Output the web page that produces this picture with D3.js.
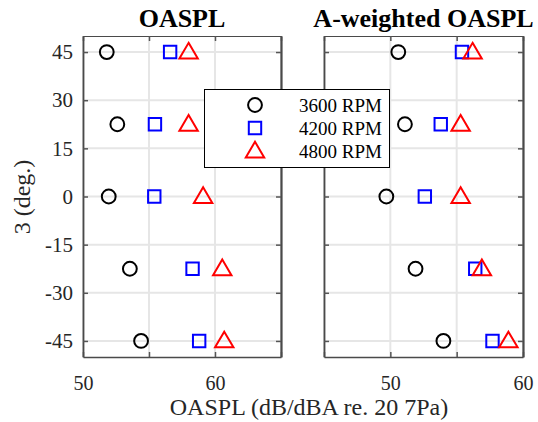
<!DOCTYPE html>
<html>
<head>
<meta charset="utf-8">
<script src="https://cdn.jsdelivr.net/npm/d3@7"></script>
<style>
  html, body { margin: 0; padding: 0; background: #fff; }
  svg { display: block; }
  text { font-family: "Liberation Serif", "Times New Roman", serif; }
</style>
</head>
<body>
<svg id="chart" width="538" height="422"></svg>
<script>
// Emission angles (deg.)
const angles = [45, 22.5, 0, -22.5, -45];
const seriesNames = ["3600 RPM", "4200 RPM", "4800 RPM"];

// Overall SPL (dB re. 20 uPa), per angle
const oaspl3600 = [51.8, 52.6, 51.95, 53.55, 54.4];
const oaspl4200 = [56.6, 55.45, 55.4, 58.3, 58.8];
const oaspl4800 = [58.0, 58.0, 59.1, 60.55, 60.7];

// A-weighted overall SPL (dBA), per angle
const aoaspl3600 = [50.6, 51.1, 49.7, 51.9, 54.0];
const aoaspl4200 = [55.4, 53.8, 52.6, 56.4, 57.7];
const aoaspl4800 = [56.2, 55.3, 55.3, 56.9, 58.9];

const yTicks = [-45, -30, -15, 0, 15, 30, 45];
const leftXTicks = [50, 55, 60, 65];
const leftXLabels = [50, 60];
const rightXTicks = [45, 50, 55, 60];
const rightXLabels = [50, 60];

const colors = ["#000000", "#0000ff", "#ff0000"];
const shapes = ["circle", "square", "triangle"];

const svg = d3.select("#chart");
const plotTop = 36, plotBottom = 357;
const y = d3.scaleLinear().domain([-50, 50]).range([plotBottom, plotTop]);

function markerPath(shape) {
  if (shape === "circle") return d3.symbol(d3.symbolCircle, 150)();
  if (shape === "square") return "M-6.2,-6.2H6.2V6.2H-6.2Z";
  return "M0,-9.2L9.2,6.4L-9.2,6.4Z";
}

function drawPanel(x0, x1, domain, ticks, labels, title, series, showY) {
  const x = d3.scaleLinear().domain(domain).range([x0, x1]);
  const g = svg.append("g");

  // grid
  g.append("g").selectAll("line").data(ticks).join("line")
    .attr("x1", d => x(d)).attr("x2", d => x(d))
    .attr("y1", plotTop).attr("y2", plotBottom)
    .attr("stroke", "#e6e6e6").attr("stroke-width", 2);
  g.append("g").selectAll("line").data(yTicks).join("line")
    .attr("x1", x0).attr("x2", x1)
    .attr("y1", d => y(d)).attr("y2", d => y(d))
    .attr("stroke", "#e6e6e6").attr("stroke-width", 2);

  // axes with inward ticks on all four sides
  const tl = 5;
  const xb = d3.axisBottom(x).tickValues(ticks).tickSizeInner(-tl).tickSizeOuter(0)
    .tickFormat(d => labels.includes(d) ? d : "").tickPadding(19);
  const xt = d3.axisTop(x).tickValues(ticks).tickSizeInner(-tl).tickSizeOuter(0).tickFormat("");
  const yl = d3.axisLeft(y).tickValues(yTicks).tickSizeInner(-tl).tickSizeOuter(0)
    .tickFormat(d => showY ? d : "").tickPadding(10);
  const yr = d3.axisRight(y).tickValues(yTicks).tickSizeInner(-tl).tickSizeOuter(0).tickFormat("");

  const styleAxis = (sel, w, fs) => {
    sel.select(".domain").attr("stroke", "#4a4a4a").attr("stroke-width", w);
    sel.selectAll(".tick line").attr("stroke", "#555").attr("stroke-width", 1.5);
    sel.selectAll("text").attr("font-size", fs).attr("fill", "#262626")
      .style("font-family", "'Liberation Serif', 'Times New Roman', serif");
  };
  g.append("g").attr("transform", `translate(0,${plotBottom})`).call(xb).call(s => styleAxis(s, 1.6, 20));
  g.append("g").attr("transform", `translate(0,${plotTop})`).call(xt).call(s => styleAxis(s, 1.2, 20));
  g.append("g").attr("transform", `translate(${x0},0)`).call(yl).call(s => styleAxis(s, 1.8, 21));
  g.append("g").attr("transform", `translate(${x1},0)`).call(yr).call(s => styleAxis(s, 2.2, 21));

  // title
  g.append("text").attr("x", (x0 + x1) / 2).attr("y", 27)
    .attr("text-anchor", "middle").attr("font-size", 26).attr("font-weight", "bold")
    .attr("fill", "#000").text(title);

  // markers
  series.forEach((vals, i) => {
    g.append("g").selectAll("path").data(vals).join("path")
      .attr("d", markerPath(shapes[i]))
      .attr("transform", (v, k) => `translate(${x(v)},${y(angles[k])})`)
      .attr("fill", "none").attr("stroke", colors[i]).attr("stroke-width", 2);
  });
}

drawPanel(83, 281, [50, 65], leftXTicks, leftXLabels, "OASPL",
  [oaspl3600, oaspl4200, oaspl4800], true);
drawPanel(324, 523, [45, 60], rightXTicks, rightXLabels, "A-weighted OASPL",
  [aoaspl3600, aoaspl4200, aoaspl4800], false);

// axis titles
svg.append("text").attr("x", 309).attr("y", 415).attr("text-anchor", "middle")
  .attr("font-size", 24).attr("fill", "#262626").text("OASPL (dB/dBA re. 20 7Pa)");
svg.append("text").attr("transform", "translate(30,197) rotate(-90)")
  .attr("text-anchor", "middle").attr("font-size", 24).attr("fill", "#262626").text("3 (deg.)");

// legend
const lg = svg.append("g");
lg.append("rect").attr("x", 204.5).attr("y", 89.5).attr("width", 185).attr("height", 78)
  .attr("fill", "#fff").attr("stroke", "#000").attr("stroke-width", 1);
seriesNames.forEach((name, i) => {
  const cy = 105 + i * 23;
  lg.append("path").attr("d", markerPath(shapes[i]))
    .attr("transform", `translate(255,${cy})`)
    .attr("fill", "none").attr("stroke", colors[i]).attr("stroke-width", 2);
  lg.append("text").attr("x", 299).attr("y", cy + 7).attr("font-size", 19)
    .attr("fill", "#000").text(name);
});
</script>
</body>
</html>
